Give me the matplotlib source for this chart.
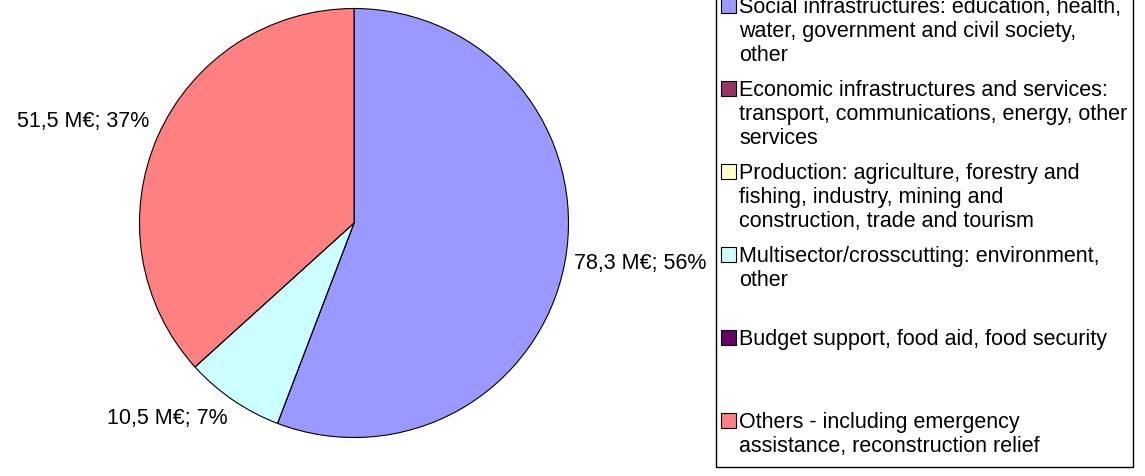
import numpy as np
import matplotlib
matplotlib.use("Agg")
import matplotlib.pyplot as plt
from matplotlib.patches import Rectangle

# ---------------------------------------------------------------------------
# Data
# ---------------------------------------------------------------------------

categories = [
    "Social infrastructures",
    "Economic infrastructures",
    "Production",
    "Multisector",
    "Budget support",
    "Others",
]
values_meur = [78.3, 0.0, 0.0, 10.5, 0.0, 51.5]
colors = ["#9999FF", "#993366", "#FFFFCC", "#CCFFFF", "#660066", "#FF8080"]

legend_lines = [
    ["Social infrastructures: education, health,",
     "water, government and civil society,",
     "other"],
    ["Economic infrastructures and services:",
     "transport, communications, energy, other",
     "services"],
    ["Production: agriculture, forestry and",
     "fishing, industry, mining and",
     "construction, trade and tourism"],
    ["Multisector/crosscutting: environment,",
     "other"],
    ["Budget support, food aid, food security"],
    ["Others - including emergency",
     "assistance, reconstruction relief"],
]

# ---------------------------------------------------------------------------
# Layout (pixels)
# ---------------------------------------------------------------------------

W, H = 1145, 476
FONT = "Liberation Sans"
FS = 15.5
PIE_CX, PIE_CY, PIE_R = 354, 223, 214.5

fig = plt.figure(figsize=(W / 100, H / 100), dpi=100)
fig.patch.set_facecolor("white")

ax = fig.add_axes([(PIE_CX - PIE_R) / W, (H - PIE_CY - PIE_R) / H,
                   2 * PIE_R / W, 2 * PIE_R / H])
wedges, _ = ax.pie(values_meur, colors=colors, startangle=90, counterclock=False,
                   radius=1.0, wedgeprops=dict(edgecolor="black", linewidth=0.8))
ax.set_xlim(-1, 1)
ax.set_ylim(-1, 1)
ax.set_axis_off()

# data labels outside each non-empty slice, Excel-style
total = sum(values_meur)
for w, v in zip(wedges, values_meur):
    if v <= 0:
        continue
    mid = np.deg2rad((w.theta1 + w.theta2) / 2)
    ux, uy = np.cos(mid), np.sin(mid)
    ha = "left" if ux > 0 else "right"
    if abs(uy) < 0.3:
        va = "center"
    else:
        va = "bottom" if uy > 0 else "top"
    txt = f"{v:.1f}".replace(".", ",") + f" M€; {round(100 * v / total):.0f}%"
    ax.text(1.045 * ux, 1.045 * uy, txt, ha=ha, va=va, fontsize=FS,
            family=FONT, clip_on=False)

# ---------------------------------------------------------------------------
# Legend, drawn in pixel coordinates on an overlay axes
# ---------------------------------------------------------------------------

lax = fig.add_axes([0, 0, 1, 1])
lax.set_xlim(0, W)
lax.set_ylim(H, 0)
lax.set_axis_off()
lax.patch.set_alpha(0)

lax.add_patch(Rectangle((716, -5), 1133 - 716, 467 + 5, facecolor="none",
                        edgecolor="black", linewidth=1.0))

first_baseline, slot, line_gap = 13, 83, 24
for i, (lines, col) in enumerate(zip(legend_lines, colors)):
    y0 = first_baseline + slot * i
    lax.add_patch(Rectangle((721, y0 - 15), 15, 15, facecolor=col,
                            edgecolor="black", linewidth=0.8))
    for j, line in enumerate(lines):
        lax.text(739, y0 + j * line_gap, line, ha="left", va="baseline",
                 fontsize=FS, family=FONT)

fig.savefig("out.png", dpi=100, facecolor="white")
